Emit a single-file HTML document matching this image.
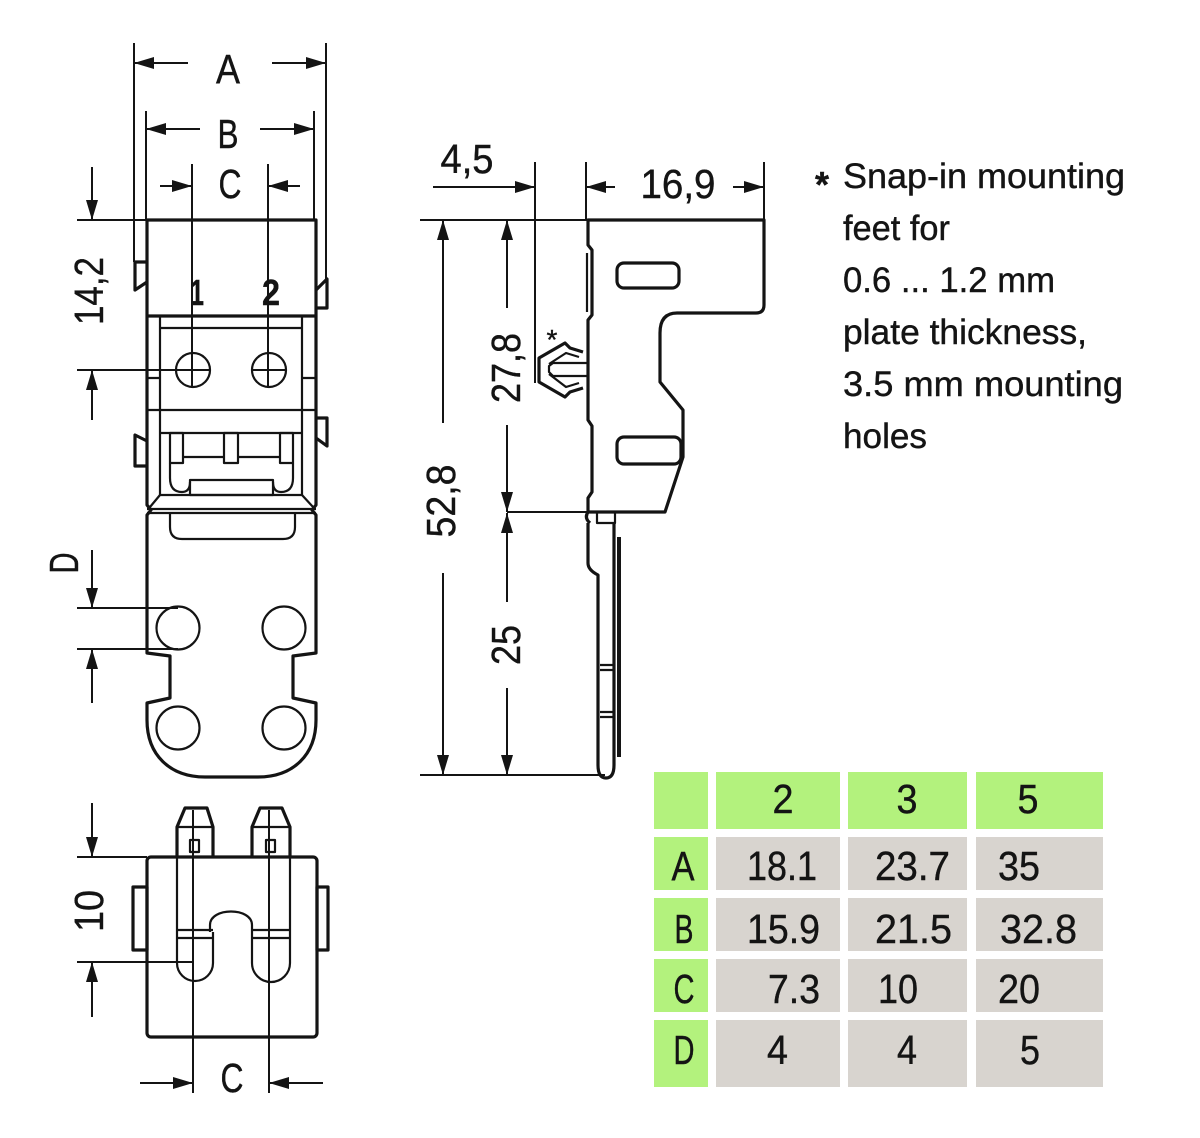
<!DOCTYPE html>
<html><head><meta charset="utf-8"><style>
html,body{margin:0;padding:0;background:#fff}
svg{display:block}
text{font-family:"Liberation Sans",sans-serif;fill:#141414;stroke:#141414;stroke-width:0.4}
.o{fill:none;stroke:#141414;stroke-width:3.2;stroke-linejoin:round}
.i{fill:none;stroke:#141414;stroke-width:2.2;stroke-linejoin:round}
.d{fill:none;stroke:#141414;stroke-width:2}
.ar{fill:none;stroke:#141414;stroke-width:2;marker-end:url(#ah)}
.L{font-size:41px}
.T{font-size:35px}
.G{fill:#b3f27d}
.R{fill:#d8d4cf}
</style></head><body>
<svg xmlns="http://www.w3.org/2000/svg" width="1200" height="1138" viewBox="0 0 1200 1138">
<defs>
<marker id="ah" viewBox="0 0 20 12" refX="20" refY="6" markerWidth="20" markerHeight="12" markerUnits="userSpaceOnUse" orient="auto"><path d="M0,0 L20,6 L0,12 z" fill="#141414"/></marker>
</defs>

<!-- ===== Top view dims ===== -->
<line class="d" x1="134" y1="43" x2="134" y2="262"/>
<line class="d" x1="326" y1="43" x2="326" y2="280"/>
<line class="ar" x1="188" y1="63" x2="134" y2="63"/>
<line class="ar" x1="272" y1="63" x2="326" y2="63"/>
<text class="L" x="228" y="83" text-anchor="middle" textLength="24" lengthAdjust="spacingAndGlyphs">A</text>

<line class="d" x1="146" y1="111" x2="146" y2="220"/>
<line class="d" x1="314" y1="111" x2="314" y2="220"/>
<line class="ar" x1="200" y1="129" x2="146" y2="129"/>
<line class="ar" x1="260" y1="129" x2="314" y2="129"/>
<text class="L" x="228" y="148" text-anchor="middle" textLength="21" lengthAdjust="spacingAndGlyphs">B</text>

<line class="d" x1="192" y1="164" x2="192" y2="388"/>
<line class="d" x1="268" y1="164" x2="268" y2="388"/>
<line class="ar" x1="160" y1="186" x2="192" y2="186"/>
<line class="ar" x1="300" y1="186" x2="268" y2="186"/>
<text class="L" x="230" y="198" text-anchor="middle" textLength="23" lengthAdjust="spacingAndGlyphs">C</text>

<!-- 14,2 -->
<line class="d" x1="77" y1="220" x2="147" y2="220"/>
<line class="ar" x1="92" y1="167" x2="92" y2="220"/>
<line class="d" x1="77" y1="370" x2="210" y2="370"/>
<line class="ar" x1="92" y1="420" x2="92" y2="370"/>
<text class="L" transform="translate(103,291) rotate(-90)" x="0" y="0" text-anchor="middle" textLength="68" lengthAdjust="spacingAndGlyphs">14,2</text>

<!-- ===== Top view body ===== -->
<path class="o" d="M147,220 H316 V505 L312,510 L316,515 V653 L293,656 V698 L316,703 V720 C316,755 293,777 258,777 H205 C170,777 147,755 147,720 V703 L170,698 V656 L147,653 V515 L151,510 L147,505 Z"/>
<line class="o" x1="147" y1="316" x2="316" y2="316"/>
<path class="i" d="M160,316 V495 M302,316 V495 M160,328 H302 M147,378 H160 M302,378 H316 M147,410 H316 M160,433 H302"/>
<rect class="i" x="170" y="433" width="13" height="30"/>
<rect class="i" x="224" y="433" width="14" height="30"/>
<rect class="i" x="280" y="433" width="13" height="30"/>
<path class="i" d="M183,457 H224 M238,457 H280"/>
<path class="i" d="M170,463 V478 Q170,492 182,492 Q190,492 190,482 M293,463 V478 Q293,492 281,492 Q273,492 273,482"/>
<rect class="i" x="190" y="480" width="83" height="15"/>
<path class="i" d="M160,495 H302 M160,495 L150,507 M302,495 L313,507"/>
<path class="i" d="M147,509 H316 M147,513 H316"/>
<path class="i" d="M170,513 V527 Q170,539 182,539 H283 Q295,539 295,527 V513"/>
<!-- tabs -->
<path class="o" d="M147,262 H135 V290 L147,282"/>
<path class="o" d="M316,290 L327,279 V308 H316"/>
<path class="o" d="M147,441 L135,435 V466 H147"/>
<path class="o" d="M316,418 H327 V446 L316,438"/>
<!-- pin labels -->
<text x="197" y="305" text-anchor="middle" font-size="36" font-weight="bold" textLength="14" lengthAdjust="spacingAndGlyphs" fill="#333">1</text>
<text x="271" y="305" text-anchor="middle" font-size="36" font-weight="bold" textLength="18" lengthAdjust="spacingAndGlyphs" fill="#333">2</text>
<!-- pin circles -->
<circle class="i" cx="193" cy="370" r="17"/>
<circle class="i" cx="269" cy="370" r="17"/>
<path class="d" d="M252,370 H286"/>
<!-- holes -->
<circle class="i" cx="178" cy="628" r="21.5"/>
<circle class="i" cx="284" cy="628" r="21.5"/>
<circle class="i" cx="178" cy="728" r="21.5"/>
<circle class="i" cx="284" cy="728" r="21.5"/>
<!-- D dim -->
<line class="d" x1="77" y1="608" x2="178" y2="608"/>
<line class="d" x1="77" y1="649" x2="178" y2="649"/>
<line class="ar" x1="92" y1="550" x2="92" y2="608"/>
<line class="ar" x1="92" y1="703" x2="92" y2="649"/>
<text class="L" transform="translate(78,563) rotate(-90)" x="0" y="0" text-anchor="middle" textLength="21" lengthAdjust="spacingAndGlyphs">D</text>

<!-- ===== Bottom (front) view ===== -->
<rect class="o" x="147" y="857" width="170" height="180" rx="4"/>
<rect class="o" x="133" y="887" width="14" height="63"/>
<rect class="o" x="317" y="887" width="11" height="63"/>
<path class="o" d="M177,857 V827 L185,808 H207 L213,827 V857"/>
<path class="o" d="M252,857 V827 L260,808 H282 L290,827 V857"/>
<path class="i" d="M177,827 H213 M252,827 H290"/>
<rect class="i" x="190" y="840" width="9" height="12"/>
<rect class="i" x="266" y="840" width="9" height="12"/>
<path class="i" d="M177,857 V963 A18,18 0 0 0 213,963 V932 M210,932 V925 C210,907 252,907 252,925 V932 M252,932 V963 A19,19 0 0 0 290,963 V857"/>
<path class="i" d="M177,930 H213 M177,938 H213 M252,930 H290 M252,938 H290"/>
<line class="d" x1="193" y1="810" x2="193" y2="1093"/>
<line class="d" x1="269" y1="810" x2="269" y2="1093"/>
<line class="ar" x1="140" y1="1083" x2="193" y2="1083"/>
<line class="ar" x1="323" y1="1083" x2="269" y2="1083"/>
<text class="L" x="232" y="1092" text-anchor="middle" textLength="23" lengthAdjust="spacingAndGlyphs">C</text>
<!-- 10 dim -->
<line class="d" x1="77" y1="857" x2="147" y2="857"/>
<line class="d" x1="77" y1="962" x2="193" y2="962"/>
<line class="ar" x1="92" y1="803" x2="92" y2="857"/>
<line class="ar" x1="92" y1="1017" x2="92" y2="962"/>
<text class="L" transform="translate(103,911) rotate(-90)" x="0" y="0" text-anchor="middle" textLength="42" lengthAdjust="spacingAndGlyphs">10</text>

<!-- ===== Side view ===== -->
<line class="d" x1="535" y1="162" x2="535" y2="383"/>
<line class="d" x1="586" y1="162" x2="586" y2="220"/>
<line class="d" x1="764" y1="162" x2="764" y2="220"/>
<line class="ar" x1="433" y1="187" x2="535" y2="187"/>
<text class="L" x="467" y="173" text-anchor="middle" textLength="53" lengthAdjust="spacingAndGlyphs">4,5</text>
<line class="ar" x1="615" y1="187" x2="586" y2="187"/>
<line class="ar" x1="733" y1="187" x2="764" y2="187"/>
<text class="L" x="678" y="198" text-anchor="middle" textLength="75" lengthAdjust="spacingAndGlyphs">16,9</text>
<line class="d" x1="420" y1="220" x2="764" y2="220"/>
<!-- 52,8 -->
<line class="ar" x1="443" y1="423" x2="443" y2="220"/>
<line class="ar" x1="443" y1="573" x2="443" y2="775"/>
<text class="L" transform="translate(455,501) rotate(-90)" x="0" y="0" text-anchor="middle" textLength="73" lengthAdjust="spacingAndGlyphs">52,8</text>
<!-- 27,8 -->
<line class="ar" x1="507" y1="308" x2="507" y2="220"/>
<line class="ar" x1="507" y1="425" x2="507" y2="512"/>
<text class="L" transform="translate(520,368) rotate(-90)" x="0" y="0" text-anchor="middle" textLength="70" lengthAdjust="spacingAndGlyphs">27,8</text>
<line class="d" x1="507" y1="512" x2="665" y2="512"/>
<!-- 25 -->
<line class="ar" x1="507" y1="602" x2="507" y2="513"/>
<line class="ar" x1="507" y1="688" x2="507" y2="775"/>
<text class="L" transform="translate(520,645) rotate(-90)" x="0" y="0" text-anchor="middle" textLength="40" lengthAdjust="spacingAndGlyphs">25</text>
<line class="d" x1="420" y1="775" x2="605" y2="775"/>
<!-- body -->
<path class="o" d="M588,220 H764 V305 Q764,313 756,313 H677 Q660,313 660,333 V382 L683,410 V457 L665,512 H588 V498 L592,492 V426 L588,420 V320 L592,315 V250 L588,245 Z"/>
<path class="i" d="M587,253 V312"/>
<rect class="o" x="617" y="263" width="62" height="25" rx="7"/>
<rect class="o" x="617" y="437" width="64" height="27" rx="7"/>
<!-- snap foot -->
<path class="o" d="M583,352 L570,348 L565,343 L539,358 V382 L565,397 L570,392 L583,388"/>
<path class="i" d="M588,363 H553 L549,366 V372 L553,376 H588 M579,357 L566,353 L549,364 M579,383 L566,387 L549,374"/>
<text x="552" y="349" text-anchor="middle" font-size="28">*</text>
<!-- plate below -->
<rect class="i" x="597" y="512" width="18" height="11"/>
<path class="o" d="M588,512 Q584,518 590,523 M588,523 V563 Q588,570 598,575 V765 Q598,778 606,778 Q614,778 614,765 V523"/>
<line x1="619" y1="537" x2="619" y2="757" stroke="#141414" stroke-width="4"/>
<path class="i" d="M600,665 H613 M600,670 H613 M600,712 H613 M600,717 H613"/>

<!-- ===== Note text ===== -->
<text x="822" y="197" text-anchor="middle" font-size="36" font-weight="bold">*</text>
<text class="T" x="843" y="188" textLength="282" lengthAdjust="spacingAndGlyphs">Snap-in mounting</text>
<text class="T" x="843" y="240" textLength="107" lengthAdjust="spacingAndGlyphs">feet for</text>
<text class="T" x="843" y="292" textLength="212" lengthAdjust="spacingAndGlyphs">0.6 ... 1.2 mm</text>
<text class="T" x="843" y="344" textLength="244" lengthAdjust="spacingAndGlyphs">plate thickness,</text>
<text class="T" x="843" y="396" textLength="280" lengthAdjust="spacingAndGlyphs">3.5 mm mounting</text>
<text class="T" x="843" y="448" textLength="84" lengthAdjust="spacingAndGlyphs">holes</text>

<!-- ===== Table ===== -->
<rect class="G" x="654" y="772" width="54" height="57"/>
<rect class="G" x="716" y="772" width="124" height="57"/>
<rect class="G" x="848" y="772" width="119" height="57"/>
<rect class="G" x="976" y="772" width="127" height="57"/>

<rect class="G" x="654" y="837" width="54" height="53"/>
<rect class="R" x="716" y="837" width="124" height="53"/>
<rect class="R" x="848" y="837" width="119" height="53"/>
<rect class="R" x="976" y="837" width="127" height="53"/>

<rect class="G" x="654" y="898" width="54" height="53"/>
<rect class="R" x="716" y="898" width="124" height="53"/>
<rect class="R" x="848" y="898" width="119" height="53"/>
<rect class="R" x="976" y="898" width="127" height="53"/>

<rect class="G" x="654" y="959" width="54" height="53"/>
<rect class="R" x="716" y="959" width="124" height="53"/>
<rect class="R" x="848" y="959" width="119" height="53"/>
<rect class="R" x="976" y="959" width="127" height="53"/>

<rect class="G" x="654" y="1020" width="54" height="67"/>
<rect class="R" x="716" y="1020" width="124" height="67"/>
<rect class="R" x="848" y="1020" width="119" height="67"/>
<rect class="R" x="976" y="1020" width="127" height="67"/>

<g class="L">
<text x="783" y="813" text-anchor="middle" textLength="21" lengthAdjust="spacingAndGlyphs">2</text>
<text x="907" y="813" text-anchor="middle" textLength="21" lengthAdjust="spacingAndGlyphs">3</text>
<text x="1028" y="813" text-anchor="middle" textLength="21" lengthAdjust="spacingAndGlyphs">5</text>

<text x="683" y="880" text-anchor="middle" textLength="23" lengthAdjust="spacingAndGlyphs">A</text>
<text x="747" y="880" textLength="70" lengthAdjust="spacingAndGlyphs">18.1</text>
<text x="875" y="880" textLength="75" lengthAdjust="spacingAndGlyphs">23.7</text>
<text x="998" y="880" textLength="42" lengthAdjust="spacingAndGlyphs">35</text>

<text x="684" y="943" text-anchor="middle" textLength="19" lengthAdjust="spacingAndGlyphs">B</text>
<text x="747" y="943" textLength="73" lengthAdjust="spacingAndGlyphs">15.9</text>
<text x="875" y="943" textLength="77" lengthAdjust="spacingAndGlyphs">21.5</text>
<text x="1000" y="943" textLength="77" lengthAdjust="spacingAndGlyphs">32.8</text>

<text x="684" y="1003" text-anchor="middle" textLength="21" lengthAdjust="spacingAndGlyphs">C</text>
<text x="768" y="1003" textLength="52" lengthAdjust="spacingAndGlyphs">7.3</text>
<text x="878" y="1003" textLength="40" lengthAdjust="spacingAndGlyphs">10</text>
<text x="998" y="1003" textLength="42" lengthAdjust="spacingAndGlyphs">20</text>

<text x="684" y="1064" text-anchor="middle" textLength="21" lengthAdjust="spacingAndGlyphs">D</text>
<text x="767" y="1064" textLength="21" lengthAdjust="spacingAndGlyphs">4</text>
<text x="897" y="1064" textLength="20" lengthAdjust="spacingAndGlyphs">4</text>
<text x="1020" y="1064" textLength="20" lengthAdjust="spacingAndGlyphs">5</text>
</g>
</svg>
</body></html>
